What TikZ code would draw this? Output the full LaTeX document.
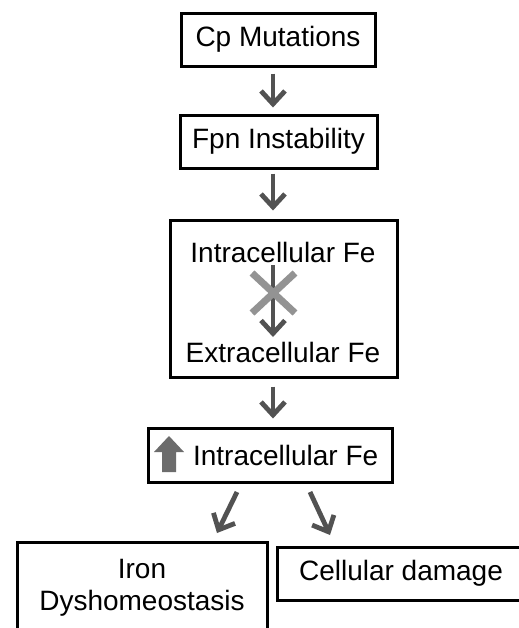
\documentclass[tikz,border=0pt]{standalone}
\usepackage{fontspec}
\setmainfont{Liberation Sans}
\usetikzlibrary{arrows.meta}

\begin{document}
\begin{tikzpicture}[x=0.5pt,y=-0.5pt,
        box/.style={draw, line width=1.5pt, inner sep=0pt, align=center},
        flow/.style={draw=black!68, line width=2.4pt, -{Straight Barb[length=6.5pt,width=12pt]}},
        every node/.style={font=\fontsize{14}{17}\selectfont}]
            \clip (0,0) rectangle (519,628);
            \fill[white] (0,0) rectangle (519,628);
            \node[box, minimum width=97pt, minimum height=26.5pt] (cp) at (278,39.5) {Cp Mutations};
            \node[box, minimum width=98.5pt, minimum height=26.5pt] (fpn) at (278.5,141.5) {Fpn Instability};
            \node[box, minimum width=113.5pt, minimum height=78.5pt] (efflux) at (283.5,298.5) {};
            \node (intra) at (283,252) {Intracellular Fe};
            \node (extra) at (283,352) {Extracellular Fe};
            \node[box, minimum width=122pt, minimum height=27pt] (high) at (270,455) {};
            \node[anchor=west] (highfe) at (186,455) {Intracellular Fe};
            \node[box, minimum width=125pt, minimum height=49pt] (iron) at (142,591) {};
            \node[align=center] (irontxt) at (142,588) {Iron\\[-1pt]Dyshomeostasis};
            \node[box, minimum width=124pt, minimum height=26.5pt] (damage) at (401,573.5) {Cellular damage};
            % arrows
            \draw[flow, shorten <=3pt, shorten >=3pt] (cp.south -| 273,0) -- (fpn.north -| 273,0);
            \draw[flow, shorten <=2pt, shorten >=4pt] (fpn.south -| 273,0) -- (efflux.north -| 273,0);
            \draw[flow] (273,265) -- (273,337);
            \draw[line width=3.5pt, gray!85] (252,273) -- (295,313);
            \draw[line width=3.5pt, gray!85] (295,273) -- (252,313);
            \draw[flow, shorten <=4pt, shorten >=4pt] (efflux.south -| 273,0) -- (high.north -| 273,0);
            \fill[gray!85!black] (169,436) -- (184,452) -- (176,452) -- (176,472) -- (162,472) -- (162,452) -- (154,452) -- cycle;
            \draw[flow] (237,492) -- (217,533);
            \draw[flow] (310,492) -- (330,535);
\end{tikzpicture}
\end{document}
